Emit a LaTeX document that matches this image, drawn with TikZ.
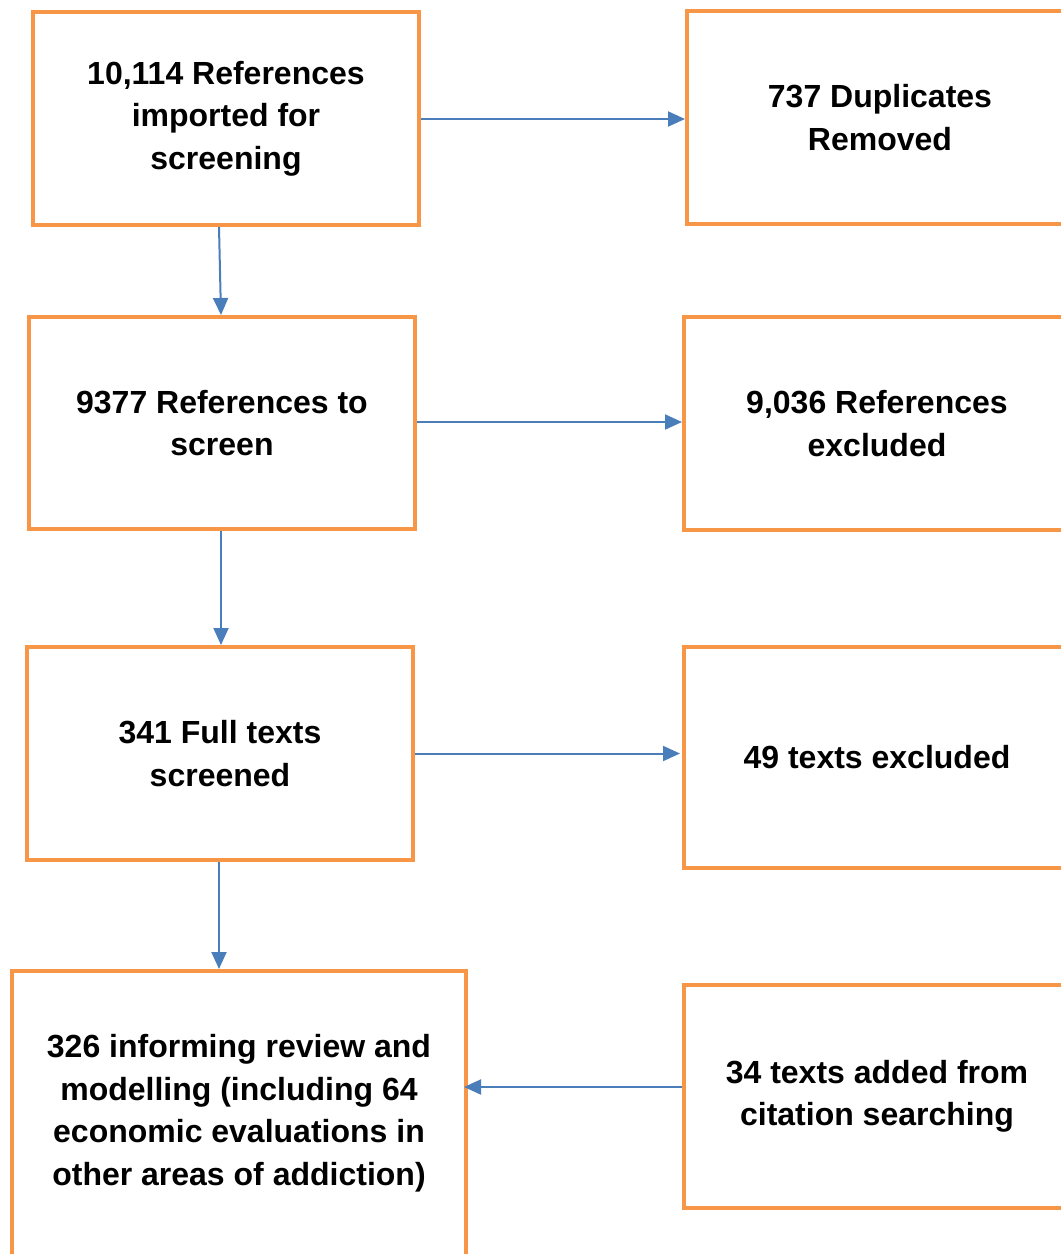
\documentclass[tikz,border=0pt]{standalone}
\usepackage{fontspec}
\setmainfont{Liberation Sans}
\usetikzlibrary{arrows.meta}
\definecolor{boxorange}{HTML}{F79646}
\definecolor{arrblue}{HTML}{4A7EBB}
\begin{document}
\begin{tikzpicture}[x=1pt,y=-1pt,
  box/.style={draw=boxorange, line width=4pt, rectangle, align=center,
    font=\fontsize{32}{42.5}\selectfont\bfseries, inner sep=0pt},
  arr/.style={draw=arrblue, line width=2pt, -{Triangle[length=17pt,width=15pt]}}]
\useasboundingbox (0,0) rectangle (1061,1254);
\clip (0,0) rectangle (1061,1254);
\node[box, minimum width=386pt, minimum height=213pt] (b1) at (226,118.5) {10,114 References\\imported for\\screening};
\node[box, minimum width=386pt, minimum height=213pt] (b2) at (880,117.5) {737 Duplicates\\Removed};
\node[box, minimum width=386pt, minimum height=212pt] (b3) at (222,423) {9377 References to\\screen};
\node[box, minimum width=386pt, minimum height=213pt] (b4) at (877,423.5) {9,036 References\\excluded};
\node[box, minimum width=386pt, minimum height=213pt] (b5) at (220,753.5) {341 Full texts\\screened};
\node[box, minimum width=386pt, minimum height=221pt] (b6) at (877,757.5) {49 texts excluded};
\node[box, minimum width=454pt, minimum height=296pt, text depth=0pt] (b7) at (239,1119) {};
\node[font=\fontsize{32}{42.5}\selectfont\bfseries, align=center, inner sep=0pt] (t7) at (239,1113) {326 informing review and\\modelling (including 64\\economic evaluations in\\other areas of addiction)};
\node[box, minimum width=386pt, minimum height=223pt] (b8) at (877,1096.5) {34 texts added from\\citation searching};
\coordinate (s1) at ([yshift=-0.5pt]b1.east);
\coordinate (s3) at ([yshift=1pt]b3.east);
\coordinate (s8) at ([yshift=9.5pt]b8.west);
\draw[arr] (s1) -- (b2.west |- s1);
\draw[arr] ([xshift=-7pt]b1.south) -- ([xshift=-1pt]b3.north);
\draw[arr] (s3) -- (b4.west |- s3);
\draw[arr] ([xshift=-1pt]b3.south) -- ([xshift=1pt]b5.north);
\draw[arr] (b5.east) -- ([xshift=-2pt]b6.west |- b5.east);
\draw[arr] ([xshift=-1pt]b5.south) -- ([xshift=-20pt]b7.north);
\draw[arr] (s8) -- ([xshift=-4pt]b7.east |- s8);
\end{tikzpicture}
\end{document}
